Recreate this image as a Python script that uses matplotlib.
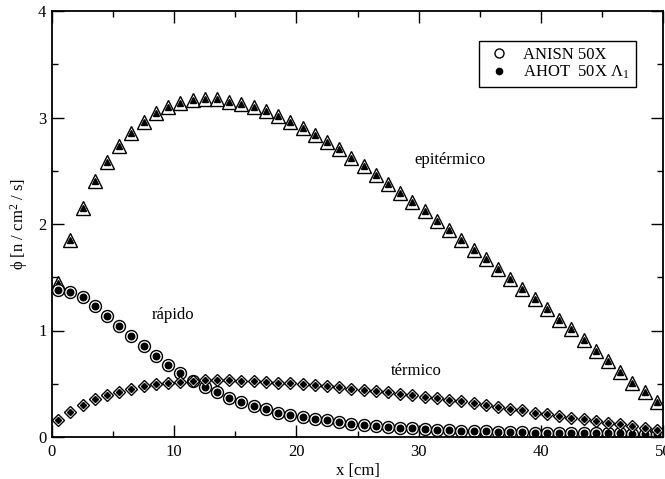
import numpy as np
import matplotlib
matplotlib.use('Agg')
import matplotlib.pyplot as plt
from matplotlib.lines import Line2D
from matplotlib.ticker import MultipleLocator

plt.rcParams['font.family'] = ['Liberation Serif', 'DejaVu Serif']
plt.rcParams['mathtext.fontset'] = 'custom'
plt.rcParams['mathtext.rm'] = 'Liberation Serif'
plt.rcParams['mathtext.it'] = 'Liberation Serif:italic'

# mesh cell centres [cm]
x_cm = np.arange(0.5, 50.0, 1.0)

# scalar flux per group (AHOT 50X results sit on top of ANISN 50X)
phi_epitermico = [1.45, 1.85, 2.15, 2.40, 2.58, 2.73, 2.85, 2.96, 3.04, 3.10,
                  3.14, 3.16, 3.17, 3.17, 3.15, 3.13, 3.10, 3.06, 3.01, 2.96,
                  2.90, 2.84, 2.77, 2.70, 2.62, 2.54, 2.46, 2.38, 2.29, 2.21,
                  2.12, 2.03, 1.94, 1.85, 1.76, 1.67, 1.58, 1.48, 1.39, 1.30,
                  1.20, 1.10, 1.01, 0.91, 0.81, 0.71, 0.61, 0.51, 0.42, 0.33]
phi_rapido = [1.38, 1.36, 1.31, 1.23, 1.14, 1.04, 0.95, 0.85, 0.76, 0.68,
              0.60, 0.53, 0.47, 0.42, 0.37, 0.33, 0.29, 0.26, 0.23, 0.21,
              0.19, 0.17, 0.155, 0.14, 0.125, 0.115, 0.105, 0.095, 0.088, 0.080,
              0.074, 0.068, 0.063, 0.059, 0.055, 0.052, 0.049, 0.046, 0.044, 0.042,
              0.040, 0.038, 0.037, 0.036, 0.035, 0.034, 0.033, 0.032, 0.031, 0.030]
phi_termico = [0.16, 0.235, 0.30, 0.355, 0.395, 0.425, 0.455, 0.475, 0.495, 0.51,
               0.52, 0.53, 0.535, 0.535, 0.535, 0.53, 0.525, 0.52, 0.51, 0.505,
               0.495, 0.485, 0.475, 0.465, 0.455, 0.44, 0.43, 0.42, 0.405, 0.39,
               0.38, 0.365, 0.35, 0.335, 0.32, 0.305, 0.28, 0.265, 0.25, 0.23,
               0.215, 0.20, 0.18, 0.165, 0.15, 0.135, 0.12, 0.10, 0.085, 0.065]

fig = plt.figure(figsize=(6.65, 4.79), dpi=100)
ax = fig.add_axes([52/665, 1 - 437/479, (663 - 52)/665, (437 - 11)/479])

open_kw = dict(linestyle='none', markerfacecolor='white', markeredgecolor='black',
               markeredgewidth=1.0)
full_kw = dict(linestyle='none', color='black')

# ANISN 50X (open) and AHOT 50X (filled) for each energy group
ax.plot(x_cm, phi_epitermico, marker='^', markersize=10, **open_kw)
ax.plot(x_cm, phi_epitermico, marker='^', markersize=5, **full_kw)
ax.plot(x_cm, phi_rapido, marker='o', markersize=8.6, **open_kw)
ax.plot(x_cm, phi_rapido, marker='o', markersize=4.7, **full_kw)
ax.plot(x_cm, phi_termico, marker='D', markersize=5.8, **open_kw)
ax.plot(x_cm, phi_termico, marker='D', markersize=3.1, **full_kw)

ax.set_xlim(0, 50)
ax.set_ylim(0, 4)
ax.xaxis.set_major_locator(MultipleLocator(10))
ax.xaxis.set_minor_locator(MultipleLocator(5))
ax.yaxis.set_major_locator(MultipleLocator(1))
ax.yaxis.set_minor_locator(MultipleLocator(0.5))
ax.tick_params(which='both', direction='in', top=True, right=True, labelsize=12)
ax.tick_params(which='major', length=8.5, width=1.0)
ax.tick_params(which='minor', length=4.5, width=1.0)
ax.tick_params(axis='x', pad=5)
ax.tick_params(axis='y', pad=4)
for s in ax.spines.values():
    s.set_linewidth(1.3)

ax.set_xlabel('x [cm]', fontsize=12, labelpad=2)
ax.set_ylabel('\u03d5 [n / cm$^{2}$ / s]', fontsize=12, labelpad=6)

ax.text(9.9, 1.15, 'rápido', fontsize=12, ha='center', va='center')
ax.text(29.8, 0.62, 'térmico', fontsize=12, ha='center', va='center')
ax.text(32.6, 2.6, 'epitérmico', fontsize=12, ha='center', va='center')

handles = [Line2D([], [], marker='o', markersize=6.5, **open_kw),
           Line2D([], [], marker='o', markersize=4.5, **full_kw)]
leg = ax.legend(handles, ['ANISN 50X', 'AHOT  50X \u039b$_{1}$'],
                loc='upper left', bbox_to_anchor=((479 - 52)/611, (437 - 41)/426),
                borderaxespad=0, fontsize=12, frameon=True, fancybox=False,
                framealpha=1, edgecolor='black', labelspacing=0.05,
                handlelength=1.7, handletextpad=0.6, borderpad=0.35)
leg.get_frame().set_linewidth(1.0)

fig.savefig('out.png', dpi=100)
